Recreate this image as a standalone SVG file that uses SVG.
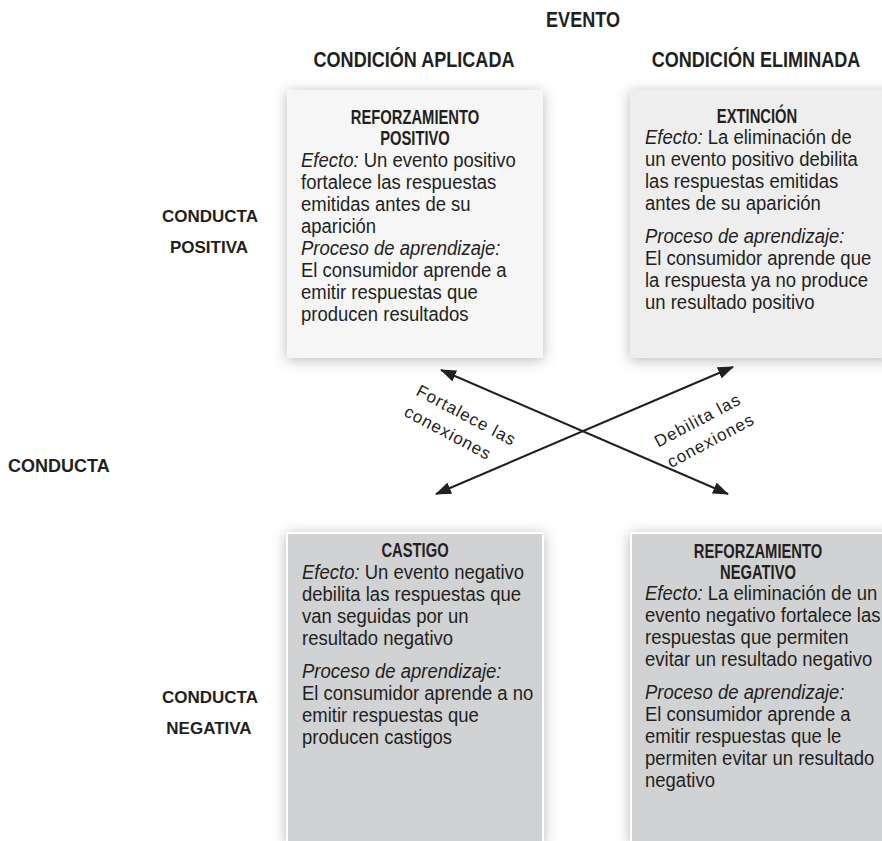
<svg xmlns="http://www.w3.org/2000/svg" width="882" height="841" viewBox="0 0 882 841">
<defs>
<filter id="sh" x="-20%" y="-20%" width="140%" height="140%">
<feDropShadow dx="0" dy="2" stdDeviation="7" flood-color="#000" flood-opacity="0.28"/>
</filter>
<marker id="ah" viewBox="0 0 16 12" refX="15" refY="6" markerWidth="16" markerHeight="12" markerUnits="userSpaceOnUse" orient="auto-start-reverse">
<path d="M0,0 L16,6 L0,12 Z" fill="#231f20"/>
</marker>
<style>
text{fill:#231f20}
.hd{font-family:"Liberation Sans",Arial,sans-serif;font-weight:bold;font-size:21px;text-anchor:middle}
.lb{font-family:"Liberation Sans",Arial,sans-serif;font-weight:bold;font-size:17px}
.tt{font-family:"Liberation Sans",Arial,sans-serif;font-weight:bold;font-size:18px;text-anchor:middle}
.bd{font-family:"Liberation Sans",Arial,sans-serif;font-size:18.5px}
.it{font-style:italic}
.al{font-family:"Liberation Sans",Arial,sans-serif;font-size:17px;letter-spacing:1px;text-anchor:middle}
.light{fill:#f6f6f6}
.mid{fill:#eeeeee}
.dark{fill:#d1d2d4;stroke:#ffffff;stroke-width:2}
.cn{stroke:#231f20;stroke-width:2;fill:none;marker-start:url(#ah);marker-end:url(#ah)}
</style>
</defs>
<rect width="882" height="841" fill="#ffffff"/>

<g id="headers">
<text class="hd" transform="translate(583,27) scale(0.86,1.08)">EVENTO</text>
<text class="hd" transform="translate(414,67) scale(0.86,1.08)">CONDICIÓN APLICADA</text>
<text class="hd" transform="translate(756,67) scale(0.86,1.08)">CONDICIÓN ELIMINADA</text>
</g>

<g id="row-labels">
<text class="lb" x="210" y="222" text-anchor="middle">CONDUCTA</text>
<text class="lb" x="209" y="253" text-anchor="middle">POSITIVA</text>
<text class="lb" x="8" y="472" style="font-size:18px">CONDUCTA</text>
<text class="lb" x="210" y="703" text-anchor="middle">CONDUCTA</text>
<text class="lb" x="209" y="734" text-anchor="middle">NEGATIVA</text>
</g>

<g id="reforzamiento-positivo">
<rect class="light" x="287" y="90" width="256" height="268" filter="url(#sh)"/>
<text class="tt" transform="translate(415,124) scale(0.82,1.1)">REFORZAMIENTO</text>
<text class="tt" transform="translate(415,145) scale(0.82,1.1)">POSITIVO</text>
<text class="bd" transform="translate(301,167) scale(1,1.08)"><tspan class="it">Efecto:</tspan> Un evento positivo</text>
<text class="bd" transform="translate(301,189) scale(1,1.08)">fortalece las respuestas</text>
<text class="bd" transform="translate(301,211) scale(1,1.08)">emitidas antes de su</text>
<text class="bd" transform="translate(301,233) scale(1,1.08)">aparición</text>
<text class="bd it" transform="translate(301,255) scale(1,1.08)">Proceso de aprendizaje:</text>
<text class="bd" transform="translate(301,277) scale(1,1.08)">El consumidor aprende a</text>
<text class="bd" transform="translate(301,299) scale(1,1.08)">emitir respuestas que</text>
<text class="bd" transform="translate(301,321) scale(1,1.08)">producen resultados</text>
</g>

<g id="extincion">
<rect class="mid" x="630" y="90" width="262" height="268" filter="url(#sh)"/>
<text class="tt" transform="translate(757,123) scale(0.82,1.1)">EXTINCIÓN</text>
<text class="bd" transform="translate(645,144) scale(1,1.08)"><tspan class="it">Efecto:</tspan> La eliminación de</text>
<text class="bd" transform="translate(645,166) scale(1,1.08)">un evento positivo debilita</text>
<text class="bd" transform="translate(645,188) scale(1,1.08)">las respuestas emitidas</text>
<text class="bd" transform="translate(645,210) scale(1,1.08)">antes de su aparición</text>
<text class="bd it" transform="translate(645,243) scale(1,1.08)">Proceso de aprendizaje:</text>
<text class="bd" transform="translate(645,265) scale(1,1.08)">El consumidor aprende que</text>
<text class="bd" transform="translate(645,287) scale(1,1.08)">la respuesta ya no produce</text>
<text class="bd" transform="translate(645,309) scale(1,1.08)">un resultado positivo</text>
</g>

<g id="castigo">
<rect class="dark" x="287" y="533" width="256" height="310" filter="url(#sh)"/>
<text class="tt" transform="translate(415,557) scale(0.82,1.1)">CASTIGO</text>
<text class="bd" transform="translate(302,579) scale(1,1.08)"><tspan class="it">Efecto:</tspan> Un evento negativo</text>
<text class="bd" transform="translate(302,601) scale(1,1.08)">debilita las respuestas que</text>
<text class="bd" transform="translate(302,623) scale(1,1.08)">van seguidas por un</text>
<text class="bd" transform="translate(302,645) scale(1,1.08)">resultado negativo</text>
<text class="bd it" transform="translate(302,678) scale(1,1.08)">Proceso de aprendizaje:</text>
<text class="bd" transform="translate(302,700) scale(1,1.08)">El consumidor aprende a no</text>
<text class="bd" transform="translate(302,722) scale(1,1.08)">emitir respuestas que</text>
<text class="bd" transform="translate(302,744) scale(1,1.08)">producen castigos</text>
</g>

<g id="reforzamiento-negativo">
<rect class="dark" x="631" y="533" width="262" height="310" filter="url(#sh)"/>
<text class="tt" transform="translate(758,558) scale(0.82,1.1)">REFORZAMIENTO</text>
<text class="tt" transform="translate(758,579) scale(0.82,1.1)">NEGATIVO</text>
<text class="bd" transform="translate(645,600) scale(1,1.08)"><tspan class="it">Efecto:</tspan> La eliminación de un</text>
<text class="bd" transform="translate(645,622) scale(1,1.08)">evento negativo fortalece las</text>
<text class="bd" transform="translate(645,644) scale(1,1.08)">respuestas que permiten</text>
<text class="bd" transform="translate(645,666) scale(1,1.08)">evitar un resultado negativo</text>
<text class="bd it" transform="translate(645,699) scale(1,1.08)">Proceso de aprendizaje:</text>
<text class="bd" transform="translate(645,721) scale(1,1.08)">El consumidor aprende a</text>
<text class="bd" transform="translate(645,743) scale(1,1.08)">emitir respuestas que le</text>
<text class="bd" transform="translate(645,765) scale(1,1.08)">permiten evitar un resultado</text>
<text class="bd" transform="translate(645,787) scale(1,1.08)">negativo</text>
</g>

<g id="connectors">
<line class="cn" x1="441" y1="370" x2="728" y2="494"/>
<line class="cn" x1="733" y1="367" x2="436" y2="494"/>
</g>

<g id="connector-labels">
<g transform="translate(466,416) rotate(28)">
<text class="al" x="0" y="5">Fortalece las</text>
<text class="al" x="-8" y="29">conexiones</text>
</g>
<g transform="translate(698,421) rotate(-28)">
<text class="al" x="0" y="5">Debilita las</text>
<text class="al" x="2" y="29">conexiones</text>
</g>
</g>
</svg>
